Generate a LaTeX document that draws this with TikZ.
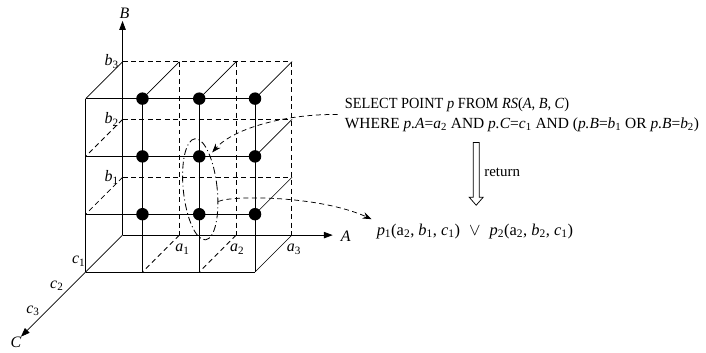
\documentclass[tikz,border=0pt]{standalone}
\usepackage{fontspec}
\setmainfont{Liberation Serif}
\usetikzlibrary{arrows.meta,shapes.geometric}
\begin{document}
\begin{tikzpicture}[x=1pt,y=-1pt,
 gl/.style={line width=0.85pt},
 hid/.style={line width=0.85pt, dash pattern=on 5pt off 3.5pt},
 dep/.style={line width=0.65pt},
 axis/.style={line width=0.85pt,-{Triangle[length=9pt,width=6.5pt]}},
 dot/.style={circle,fill,inner sep=0pt,minimum size=12.5pt},
 lab/.style={font=\fontsize{16}{18}\selectfont, inner sep=0pt},
 txt/.style={font=\fontsize{15.5}{20.5}\selectfont, inner sep=0pt, align=left},
 restxt/.style={font=\fontsize{16.5}{19}\selectfont, inner sep=0pt},
 call/.style={line width=0.75pt, dash pattern=on 5pt off 3.5pt, -{Stealth[length=9pt,width=6.5pt]}},
 ring/.style={line width=0.85pt, dash pattern=on 7pt off 3pt on 1pt off 3pt}]
\fill[white] (0,0) rectangle (706,354);
% grid coordinates: back plane k, front plane f
\foreach \i/\x in {0/123,1/180,2/237,3/293}
  \foreach \j/\y in {0/236,1/178,2/120,3/62} {
    \coordinate (k\i\j) at (\x,\y);
    \coordinate (f\i\j) at (\x-37,\y+37);
  }
% back plane (hidden)
\foreach \j in {1,2,3} \draw[hid] (k0\j) -- (k3\j);
\foreach \i in {1,2,3} \draw[hid] (k\i3) -- (k\i0);
% depth lines
\foreach \i in {0,...,3} \draw[dep] (k\i3) -- (f\i3);
\foreach \j in {0,1,2} \draw[dep] (k3\j) -- (f3\j);
\draw[hid] (k02) -- (f02);
\draw[hid] (k01) -- (f01);
\draw[hid] (k10) -- (f10);
\draw[hid] (k20) -- (f20);
% front plane
\foreach \j in {0,...,3} \draw[gl] (f0\j) -- (f3\j);
\foreach \i in {0,...,3} \draw[gl] (f\i0) -- (f\i3);
% axes
\coordinate (Btip) at (123,21);
\coordinate (Atip) at (334,236);
\coordinate (Ctip) at (21,338);
\draw[axis] (k00) -- (Btip);
\draw[axis] (k00) -- (Atip);
\draw[axis] (k00) -- (Ctip);
% dots
\foreach \i in {1,2,3}
  \foreach \j in {1,2,3}
    \node[dot] (d\i\j) at (f\i\j) {};
% labels
\node[lab] (lB) at (125,13) {\textit{B}};
\node[lab] (lA) at (347,237) {\textit{A}};
\node[lab] (lC) at (16,344) {\textit{C}};
\node[lab] (lb3) at (112,62) {\textit{b}\textsubscript{3}};
\node[lab] (lb2) at (112,120) {\textit{b}\textsubscript{2}};
\node[lab] (lb1) at (112,178) {\textit{b}\textsubscript{1}};
\node[lab] (la1) at (183,250) {\textit{a}\textsubscript{1}};
\node[lab] (la2) at (238,250) {\textit{a}\textsubscript{2}};
\node[lab] (la3) at (295,250) {\textit{a}\textsubscript{3}};
\node[lab] (lc1) at (79,262) {\textit{c}\textsubscript{1}};
\node[lab] (lc2) at (57,287) {\textit{c}\textsubscript{2}};
\node[lab] (lc3) at (33,312) {\textit{c}\textsubscript{3}};
% ellipse
\node[ellipse, draw, ring, minimum width=34pt, minimum height=102pt, inner sep=0pt, rotate=6] (ell) at (201,190) {};
% query text
\node[txt, anchor=west, inner xsep=7pt] (q) at (339,115)
 {\scalebox{0.93}[1]{SELECT POINT \textit{p} FROM \textit{RS}(\textit{A}, \textit{B}, \textit{C})}\\
  WHERE \textit{p.A}=\textit{a}\textsubscript{2} AND \textit{p.C}=\textit{c}\textsubscript{1} AND (\textit{p.B}=\textit{b}\textsubscript{1} OR \textit{p.B}=\textit{b}\textsubscript{2})};
% result text
\node[restxt, anchor=west] (res) at (378,232)
 {\textit{p}\textsubscript{1}(a\textsubscript{2}, \textit{b}\textsubscript{1}, \textit{c}\textsubscript{1})\hspace{9pt}$\vee$\hspace{9pt}\textit{p}\textsubscript{2}(a\textsubscript{2}, \textit{b}\textsubscript{2}, \textit{c}\textsubscript{1})};
% return arrow
\draw[line width=0.75pt] (475,143) -- (481,143) -- (481,198) -- (485,198) -- (478,206) -- (471,198) -- (475,198) -- cycle;
\node[font=\fontsize{15}{18}\selectfont, inner sep=0pt, anchor=west] (ret) at (486,173) {return};
% dashed call-outs
\coordinate (tipA) at (213,153);
\coordinate (tipB) at (373,220);
\draw[call] (q.west) .. controls (290,114) and (235,128) .. (tipA);
\draw[call] (ell.-40) .. controls (232,196) and (320,196) .. (tipB);
\end{tikzpicture}
\end{document}
